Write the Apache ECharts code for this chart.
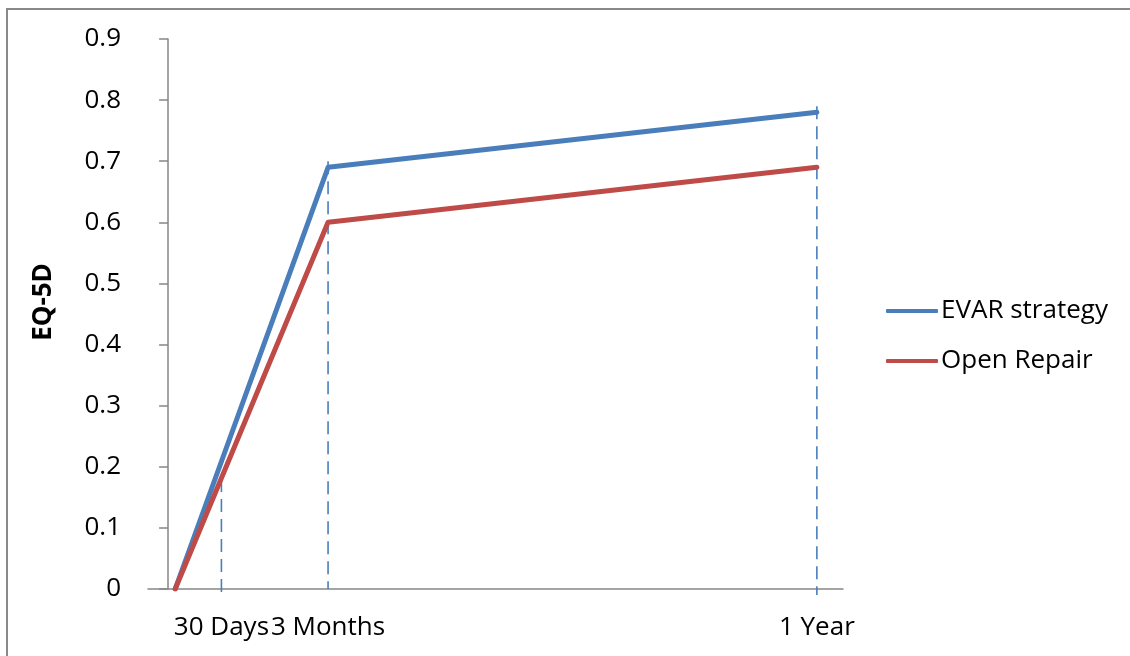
<!DOCTYPE html>
<html>
<head>
<meta charset="utf-8">
<script src="https://cdn.jsdelivr.net/npm/echarts@6/dist/echarts.min.js"></script>
<style>
  html, body { margin: 0; padding: 0; background: #fff; }
  #chart { width: 1130px; height: 656px; }
</style>
</head>
<body>
<div id="chart"></div>
<script>
// EQ-5D follow-up, x positions in days after repair
const seriesNames = ['EVAR strategy', 'Open Repair'];
const timeDays = [4, 90, 365];
const evarValues = [0, 0.69, 0.78];
const openValues = [0, 0.60, 0.69];

// Follow-up time points with their labels and drop-line heights
const tickDays = [30, 90, 365];
const tickLabels = ['30 Days', '3 Months', '1 Year'];
const dropTops = [0.18, 0.70, 0.79];
const dropBottoms = [-0.01, 0, -0.01];

const yTicks = [0, 0.1, 0.2, 0.3, 0.4, 0.5, 0.6, 0.7, 0.8, 0.9];

const FONT = 'Open Sans';
const AXIS_GREY = '#868686';
const BLUE = '#4a7ebb';
const RED = '#be4b48';

const pairs = (xs, ys) => xs.map((x, i) => [x, ys[i]]);

const dropSeries = tickDays.map((d, i) => ({
  name: 'drop-' + tickLabels[i],
  type: 'line',
  data: [[d, dropTops[i]], [d, dropBottoms[i]]],
  symbol: 'none',
  clip: false,
  silent: true,
  z: 1,
  lineStyle: { color: BLUE, width: 1.6, type: [13, 7] }
}));

const chart = echarts.init(document.getElementById('chart'), null, { renderer: 'canvas' });

chart.setOption({
  animation: false,
  backgroundColor: '#fff',
  textStyle: { fontFamily: FONT, color: '#000' },
  grid: {
    left: 148, top: 39, width: 695, height: 550,
    containLabel: false, outerBoundsMode: 'none'
  },
  xAxis: {
    type: 'value',
    min: -11.3,
    max: 379.7,
    axisLine: { show: true, onZero: false, lineStyle: { color: AXIS_GREY, width: 1.5 } },
    axisTick: { show: false },
    splitLine: { show: false },
    axisLabel: {
      customValues: tickDays,
      formatter: v => tickLabels[tickDays.indexOf(v)] || '',
      fontFamily: FONT, fontSize: 26, color: '#000', margin: 26,
      showMinLabel: true, showMaxLabel: true
    }
  },
  yAxis: {
    type: 'value',
    min: 0, max: 0.9, interval: 0.1,
    axisLine: { show: true, lineStyle: { color: AXIS_GREY, width: 1.5 } },
    axisTick: { show: true, length: 9, lineStyle: { color: AXIS_GREY, width: 1.5 } },
    splitLine: { show: false },
    axisLabel: {
      fontFamily: FONT, fontSize: 26, color: '#000', margin: 27,
      formatter: v => {
        const t = yTicks.find(k => Math.abs(k - v) < 1e-9);
        return t === undefined ? '' : String(t);
      }
    }
  },
  legend: {
    data: seriesNames,
    orient: 'vertical',
    left: 886, top: 296,
    padding: 0,
    itemWidth: 52, itemHeight: 4, itemGap: 20,
    icon: 'roundRect',
    textStyle: { fontFamily: FONT, fontSize: 26, color: '#000', lineHeight: 30, padding: [0, 0, 0, -2] }
  },
  graphic: [
    {
      type: 'rect',
      shape: { x: 7, y: 9, width: 1200, height: 700 },
      style: { fill: 'none', stroke: '#898989', lineWidth: 2 },
      silent: true, z: -1
    },
    {
      type: 'text',
      x: 44, y: 302,
      rotation: Math.PI / 2,
      style: {
        text: 'EQ-5D', fontFamily: FONT, fontWeight: 'bold', fontSize: 26,
        fill: '#000', align: 'center', verticalAlign: 'middle'
      }
    }
  ],
  series: [
    ...dropSeries,
    {
      name: seriesNames[0],
      type: 'line',
      data: pairs(timeDays, evarValues),
      symbol: 'none',
      z: 3,
      itemStyle: { color: BLUE },
      lineStyle: { color: BLUE, width: 5, cap: 'round', join: 'round' }
    },
    {
      name: seriesNames[1],
      type: 'line',
      data: pairs(timeDays, openValues),
      symbol: 'none',
      z: 4,
      itemStyle: { color: RED },
      lineStyle: { color: RED, width: 5, cap: 'round', join: 'round' }
    }
  ]
});
</script>
</body>
</html>
